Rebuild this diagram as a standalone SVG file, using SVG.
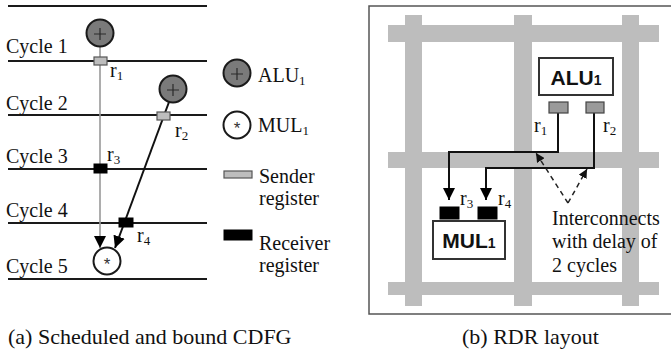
<svg xmlns="http://www.w3.org/2000/svg" width="671" height="356" viewBox="0 0 671 356">
<style>
  .t{font-family:"Liberation Serif","Times New Roman",serif;font-size:20px;fill:#111}
  .cap{font-family:"Liberation Serif","Times New Roman",serif;font-size:22px;fill:#111}
  .b{font-family:"Liberation Sans",Arial,sans-serif;font-size:21px;font-weight:bold;fill:#111}
  .sub{font-size:13px}
  .ast{font-family:"Liberation Sans",Arial,sans-serif;font-size:17px;fill:#333}
  .cyc{stroke:#1a1a1a;stroke-width:2}
  .alu{fill:#7a7a7a;stroke:#1a1a1a;stroke-width:2}
  .mul{fill:#fff;stroke:#1a1a1a;stroke-width:2}
  .snd{fill:#bdbdbd;stroke:#555;stroke-width:1.2}
  .rcv{fill:#000;stroke:#000;stroke-width:1}
  .sym{stroke:#2a2a2a;stroke-width:1.2;fill:none}
  .grid{fill:#bdbdbd}
  .box{fill:#fff;stroke:#333;stroke-width:2}
  .sreg{fill:#9a9a9a;stroke:#444;stroke-width:1.2}
  .wire{fill:none;stroke:#111;stroke-width:2}
  .gwire{fill:none;stroke:#999;stroke-width:1.6}
  .dash{fill:none;stroke:#222;stroke-width:1.5;stroke-dasharray:5 4}
</style>
<defs>
  <marker id="ah" viewBox="0 0 12 12" markerWidth="12" markerHeight="12" refX="12" refY="6" orient="auto" markerUnits="userSpaceOnUse">
    <path d="M0,0 L12,6 L0,12 z" fill="#000"/>
  </marker>
  <marker id="ahs" viewBox="0 0 10 10" markerWidth="9" markerHeight="9" refX="10" refY="5" orient="auto" markerUnits="userSpaceOnUse">
    <path d="M0,0 L10,5 L0,10 z" fill="#111"/>
  </marker>
</defs>

<!-- (a) cycle lines and labels -->
<g id="cycles">
  <line class="cyc" x1="8" y1="6" x2="207" y2="6"/>
  <line class="cyc" x1="8" y1="61" x2="207" y2="61"/>
  <line class="cyc" x1="8" y1="115" x2="207" y2="115"/>
  <line class="cyc" x1="8" y1="169" x2="207" y2="169"/>
  <line class="cyc" x1="8" y1="223" x2="207" y2="223"/>
  <line class="cyc" x1="8" y1="279" x2="207" y2="279"/>
  <text class="t" x="6" y="53">Cycle 1</text>
  <text class="t" x="6" y="110">Cycle 2</text>
  <text class="t" x="6" y="163">Cycle 3</text>
  <text class="t" x="6" y="217">Cycle 4</text>
  <text class="t" x="6" y="273">Cycle 5</text>
</g>

<!-- (a) connectors -->
<g id="connectors-a">
  <line class="gwire" x1="100" y1="47" x2="100" y2="248" marker-end="url(#ah)"/>
  <line class="wire" x1="169" y1="102" x2="115" y2="248" marker-end="url(#ah)"/>
</g>

<!-- (a) nodes -->
<g id="alu-c1">
  <circle class="alu" cx="100" cy="33" r="13.5"/>
  <path class="sym" d="M94,34 H106 M100,28 V40"/>
</g>
<g id="alu-c2">
  <circle class="alu" cx="173" cy="89" r="13.5"/>
  <path class="sym" d="M167,90 H179 M173,84 V96"/>
</g>
<g id="mul-c5">
  <circle class="mul" cx="107" cy="261" r="13.5"/>
  <text class="ast" x="107" y="270" text-anchor="middle">*</text>
</g>
<g id="reg-r1">
  <rect class="snd" x="94" y="57" width="13" height="8"/>
  <text class="t" x="110" y="77">r<tspan class="sub" dy="3">1</tspan></text>
</g>
<g id="reg-r2">
  <rect class="snd" x="157" y="112" width="13" height="8"/>
  <text class="t" x="175" y="137">r<tspan class="sub" dy="3">2</tspan></text>
</g>
<g id="reg-r3">
  <rect class="rcv" x="94" y="164" width="13" height="9"/>
  <text class="t" x="107" y="161">r<tspan class="sub" dy="3">3</tspan></text>
</g>
<g id="reg-r4">
  <rect class="rcv" x="119" y="218" width="14" height="9"/>
  <text class="t" x="137" y="242">r<tspan class="sub" dy="3">4</tspan></text>
</g>

<!-- legend -->
<g id="legend-alu">
  <circle class="alu" cx="237" cy="73" r="13.5"/>
  <path class="sym" d="M231,74 H243 M237,68 V80"/>
  <text class="t" x="258" y="82">ALU<tspan class="sub" dy="3">1</tspan></text>
</g>
<g id="legend-mul">
  <circle class="mul" cx="237" cy="125" r="13.5"/>
  <text class="ast" x="237" y="134" text-anchor="middle">*</text>
  <text class="t" x="258" y="132">MUL<tspan class="sub" dy="3">1</tspan></text>
</g>
<g id="legend-sender">
  <rect class="snd" x="224" y="171" width="28" height="7"/>
  <text class="t" x="259" y="183">Sender</text>
  <text class="t" x="259" y="205">register</text>
</g>
<g id="legend-receiver">
  <rect class="rcv" x="224" y="230" width="28" height="10"/>
  <text class="t" x="259" y="250">Receiver</text>
  <text class="t" x="259" y="272">register</text>
</g>

<text class="cap" x="8" y="344">(a) Scheduled and bound CDFG</text>

<!-- (b) RDR layout -->
<g id="frame">
  <rect x="369" y="6" width="320" height="308" fill="#fff" stroke="#555" stroke-width="1.5"/>
</g>
<g id="grid">
  <rect class="grid" x="388" y="25" width="271" height="17"/>
  <rect class="grid" x="388" y="152" width="271" height="16"/>
  <rect class="grid" x="388" y="282" width="271" height="13"/>
  <rect class="grid" x="405" y="15" width="17" height="291"/>
  <rect class="grid" x="514" y="15" width="18" height="291"/>
  <rect class="grid" x="622" y="15" width="17" height="291"/>
</g>

<g id="connectors-b">
  <polyline class="wire" points="558,113 558,152 449,152 449,200" marker-end="url(#ah)"/>
  <polyline class="wire" points="594,113 594,168 486,168 486,200" marker-end="url(#ah)"/>
  <line class="dash" x1="568" y1="203" x2="536" y2="153" marker-end="url(#ahs)"/>
  <line class="dash" x1="568" y1="203" x2="587" y2="169" marker-end="url(#ahs)"/>
</g>

<g id="alu1">
  <rect class="box" x="539" y="58" width="74" height="37"/>
  <text class="b" x="576" y="85" text-anchor="middle">ALU<tspan font-size="14">1</tspan></text>
</g>
<g id="sreg-r1">
  <rect class="sreg" x="549" y="102" width="19" height="11"/>
  <text class="t" x="534" y="132">r<tspan class="sub" dy="3">1</tspan></text>
</g>
<g id="sreg-r2">
  <rect class="sreg" x="586" y="102" width="18" height="11"/>
  <text class="t" x="603" y="132">r<tspan class="sub" dy="3">2</tspan></text>
</g>
<g id="rreg-r3">
  <rect class="rcv" x="440" y="207" width="19" height="12"/>
  <text class="t" x="460" y="205">r<tspan class="sub" dy="3">3</tspan></text>
</g>
<g id="rreg-r4">
  <rect class="rcv" x="478" y="207" width="19" height="12"/>
  <text class="t" x="498" y="205">r<tspan class="sub" dy="3">4</tspan></text>
</g>
<g id="mul1">
  <rect class="box" x="433" y="221" width="72" height="38"/>
  <text class="b" x="469" y="248" text-anchor="middle">MUL<tspan font-size="14">1</tspan></text>
</g>
<g id="note">
  <text class="t" x="552" y="225" font-size="21">Interconnects</text>
  <text class="t" x="552" y="248" font-size="21">with delay of</text>
  <text class="t" x="552" y="272" font-size="21">2 cycles</text>
</g>

<text class="cap" x="462" y="344">(b) RDR layout</text>
</svg>
